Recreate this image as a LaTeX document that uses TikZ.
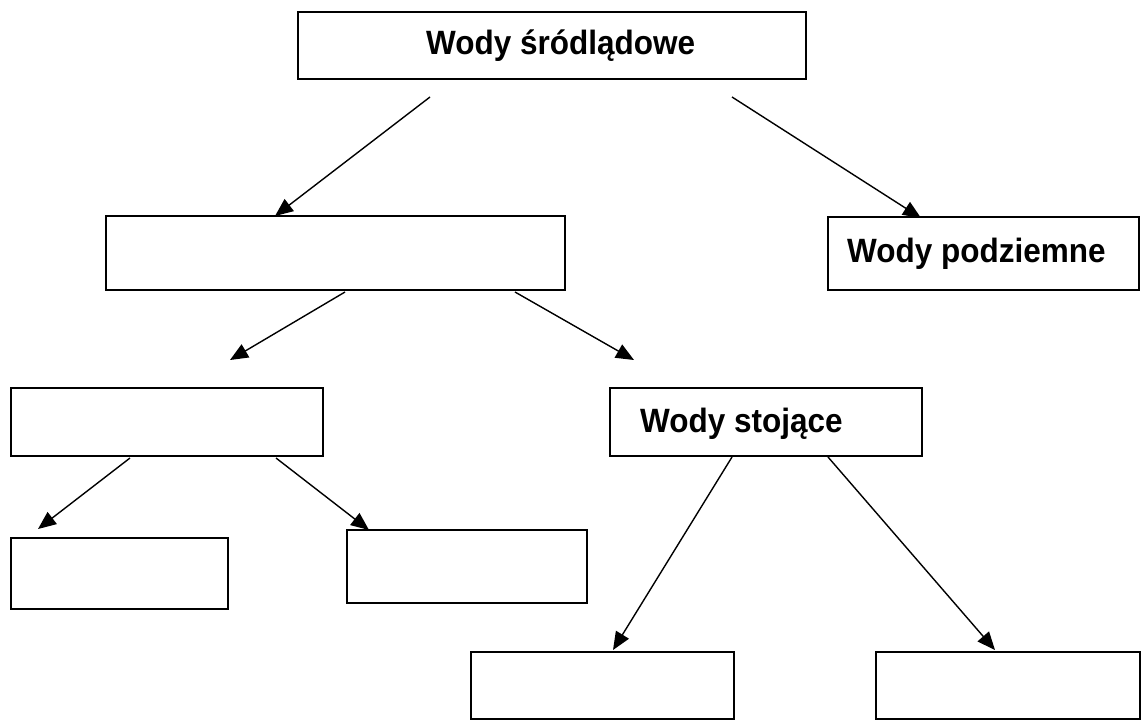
\documentclass[tikz,border=0pt]{standalone}
\usepackage{fontspec}
\usepackage{graphicx}
\setmainfont{Liberation Sans}
\usetikzlibrary{arrows.meta}
\newcommand{\tallbold}[1]{\scalebox{1}[1.07]{\fontsize{31.5}{36}\selectfont\bfseries #1}}
\begin{document}
\begin{tikzpicture}[x=1pt,y=-1pt,
  box/.style={draw=black,line width=1.8pt,fill=white},
  lbl/.style={anchor=base west,inner sep=0pt},
  conn/.style={line width=1.4pt,-{Triangle[length=18pt,width=15pt]}}]
\useasboundingbox (0,0) rectangle (1147,726);
% boxes
\draw[box] (298,12) rectangle (806,79);
\draw[box] (106,216) rectangle (565,290);
\draw[box] (828,217) rectangle (1139,290);
\draw[box] (11,388) rectangle (323,456);
\draw[box] (610,388) rectangle (922,456);
\draw[box] (11,538) rectangle (228,609);
\draw[box] (347,530) rectangle (587,603);
\draw[box] (471,652) rectangle (734,719);
\draw[box] (876,652) rectangle (1140,719);
% labels
\node[lbl] (t1) at (426,54) {\tallbold{Wody śródlądowe}};
\node[lbl] (t2) at (847,262) {\tallbold{Wody podziemne}};
\node[lbl] (t3) at (640,432) {\tallbold{Wody stojące}};
% connector end points
\coordinate (s1) at (430,97);  \coordinate (e1) at (275,216);
\coordinate (s2) at (732,97);  \coordinate (e2) at (921,218);
\coordinate (s3) at (345,292); \coordinate (e3) at (230,360);
\coordinate (s4) at (515,292); \coordinate (e4) at (634,360);
\coordinate (s5) at (130,458); \coordinate (e5) at (38,529);
\coordinate (s6) at (276,458); \coordinate (e6) at (369,530);
\coordinate (s7) at (732,457); \coordinate (e7) at (613,650);
\coordinate (s8) at (828,457); \coordinate (e8) at (995,650);
\foreach \i in {1,...,8} {\draw[conn] (s\i) -- (e\i);}
\end{tikzpicture}
\end{document}
